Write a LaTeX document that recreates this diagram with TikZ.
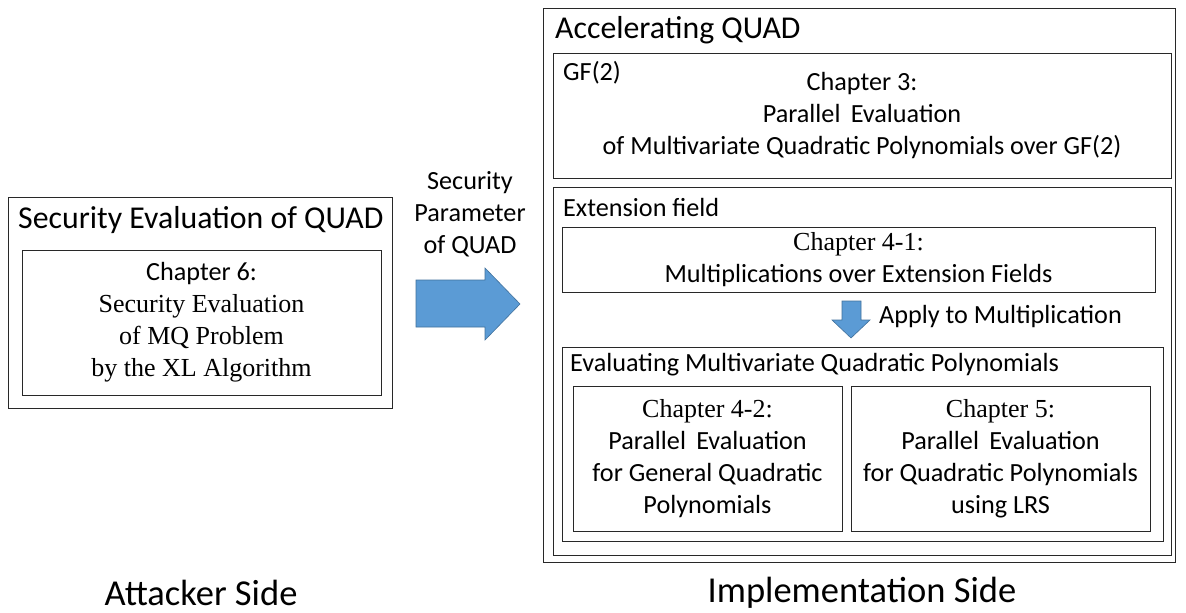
\documentclass[tikz,border=0pt]{standalone}
\usepackage{fontspec}
\setmainfont{Carlito}
\newfontfamily\tnr{Liberation Serif}
\definecolor{arrowblue}{RGB}{91,155,213}
\definecolor{arrowedge}{RGB}{65,113,156}
\definecolor{boxline}{RGB}{40,40,40}
\tikzset{
  box/.style={draw=boxline, line width=1pt, rectangle, inner sep=0pt, outer sep=0pt, anchor=north west},
  ttl/.style={anchor=west, inner sep=0pt, font=\fontsize{31.8}{31.8}\selectfont},
  sub/.style={anchor=west, inner sep=0pt, font=\fontsize{26.2}{26.2}\selectfont},
  body/.style={align=center, inner sep=0pt, font=\fontsize{26.2}{32}\selectfont},
  side/.style={inner sep=0pt, font=\fontsize{36.5}{36.5}\selectfont},
  blockarrow/.style={fill=arrowblue, draw=arrowedge, line width=0.6pt, line join=miter}
}
\newcommand{\sr}{\fontsize{26}{32}\tnr}
\begin{document}
\begin{tikzpicture}[x=1pt,y=-1pt]
\useasboundingbox (0,0) rectangle (1186,613);
\fill[white] (0,0) rectangle (1186,613);

% left side
\node[box, minimum width=384pt, minimum height=211pt] (left) at (8,197) {};
\node[ttl] (lefttitle) at (18,220) {Security Evaluation of QUAD};
\node[box, minimum width=359pt, minimum height=145pt] (ch6) at (22,250) {};
\node[body] (ch6text) at (ch6.center) {Chapter 6:\\{\sr Security Evaluation}\\{\sr of MQ Problem}\\{\sr by the XL Algorithm}};

% big arrow
\node[body] (paramlabel) at (470,214) {Security\\Parameter\\of QUAD};
\draw[blockarrow] (416,280) -- (485,280) -- (485,268) -- (520,304) -- (485,340) -- (485,327) -- (416,327) -- cycle;

% right side
\node[box, minimum width=632pt, minimum height=554pt] (right) at (543,8) {};
\node[ttl] (righttitle) at (555,30) {Accelerating QUAD};

\node[box, minimum width=618pt, minimum height=125pt] (gf) at (553,53) {};
\node[sub] (gftitle) at (563,73) {GF(2)};
\node[body] (ch3text) at (862,116) {Chapter 3:\\Parallel\, Evaluation\\of Multivariate Quadratic Polynomials over GF(2)};

\node[box, minimum width=618pt, minimum height=368pt] (ext) at (553,187) {};
\node[sub] (exttitle) at (563,207) {Extension field};

\node[box, minimum width=593pt, minimum height=65pt] (ch41) at (562,227) {};
\node[body] (ch41text) at (ch41.center) {{\sr Chapter 4-1:}\\Multiplications over Extension Fields};

\draw[blockarrow] (842,301) -- (861,301) -- (861,320) -- (870,320) -- (851,338) -- (832,320) -- (842,320) -- cycle;
\node[sub] (applylabel) at (879,317) {Apply to Multiplication};

\node[box, minimum width=601pt, minimum height=194pt] (evalbox) at (562,347) {};
\node[sub] (evaltitle) at (570,365) {Evaluating Multivariate Quadratic Polynomials};

\node[box, minimum width=269pt, minimum height=145pt] (ch42) at (573,386) {};
\node[body] (ch42text) at (ch42.center) {{\sr Chapter 4-2:}\\Parallel\, Evaluation\\for General Quadratic\\Polynomials};

\node[box, minimum width=299pt, minimum height=145pt] (ch5) at (851,386) {};
\node[body] (ch5text) at (ch5.center) {{\sr Chapter 5:}\\Parallel\, Evaluation\\for Quadratic Polynomials\\using LRS};

% side labels
\node[side] (attacker) at (201,593) {Attacker Side};
\node[side] (impl) at (862,593) {Implementation Side};
\end{tikzpicture}
\end{document}
